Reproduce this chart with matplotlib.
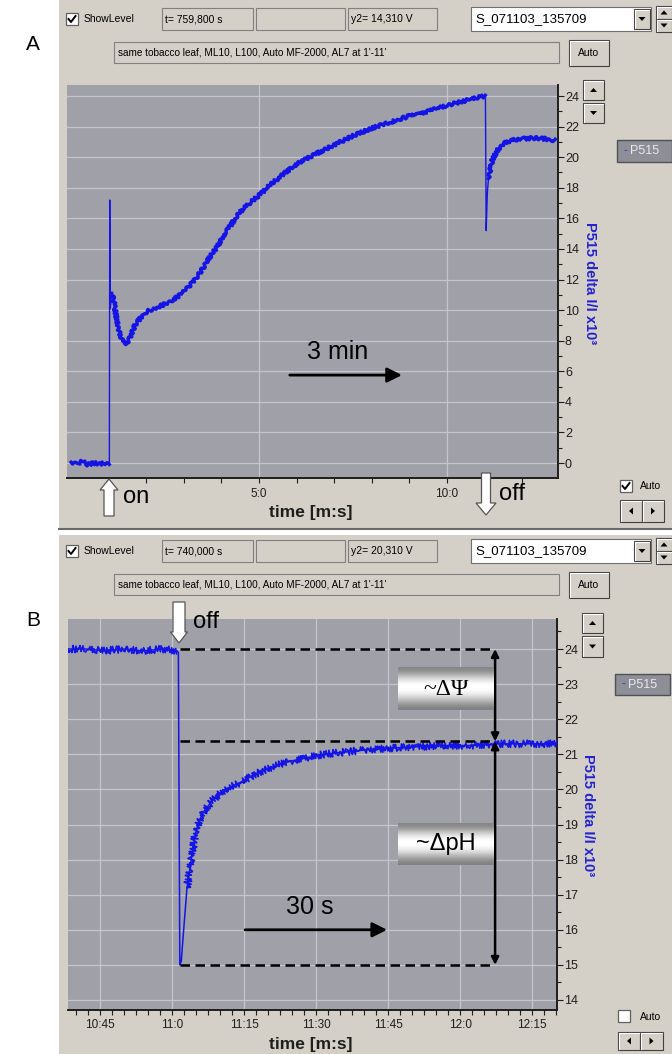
import matplotlib
matplotlib.use('Agg')
import matplotlib.pyplot as plt
import numpy as np
from matplotlib.patches import Rectangle, Polygon
from matplotlib.lines import Line2D
from matplotlib.ticker import MultipleLocator, FixedLocator, FuncFormatter

plt.rcParams['font.family'] = ['Liberation Sans', 'DejaVu Sans']

W, H = 672, 1054

# panel A: P515 trace over the whole run (time in min, signal x10^-3)
a_time = [0.0, 0.15, 0.3, 0.45, 0.6, 0.75, 0.9, 1.02,
          1.03, 1.045, 1.08, 1.12, 1.2, 1.3, 1.4, 1.5, 1.6, 1.7, 1.85, 1.95,
          2.1, 2.4, 2.6, 2.85, 3.05, 3.3, 3.5, 3.7, 3.9, 4.15, 4.4, 4.6, 4.8, 5.0,
          5.3, 5.7, 6.1, 6.5, 7.0, 7.5, 8.0, 8.5, 9.0, 9.5, 10.0, 10.5, 10.8, 11.02,
          11.04, 11.07, 11.1, 11.2, 11.35, 11.5, 11.7, 12.0, 12.3, 12.6, 12.87]
a_signal = [0.05, -0.05, 0.1, -0.1, 0.0, -0.05, 0.0, -0.05,
            17.2, 10.1, 11.1, 10.9, 9.6, 8.4, 7.9, 7.8, 8.4, 9.0, 9.5, 9.8,
            10.0, 10.3, 10.5, 10.9, 11.3, 12.0, 12.7, 13.5, 14.2, 15.2, 16.1, 16.7, 17.1, 17.5,
            18.2, 19.0, 19.7, 20.2, 20.8, 21.4, 21.9, 22.3, 22.7, 23.0, 23.4, 23.7, 23.9, 24.0,
            15.2, 17.6, 18.6, 19.8, 20.5, 20.9, 21.1, 21.2, 21.25, 21.2, 21.1]

# panel B: zoom on the light-off relaxation (time in s)
b_time = [638.3, 642, 646, 650, 654, 658, 661.0, 661.3, 661.6, 661.9, 662.4, 663.1,
          664.1, 664.8, 665.6, 666.5, 668.5, 671.0, 674.2, 677.5, 681.0, 684.5, 688.0,
          691.5, 695.0, 702.0, 709.0, 716.0, 722.0, 728.0, 734.0, 740.2]
b_signal = [24.0, 24.0, 23.95, 24.0, 23.95, 24.0, 23.95, 23.9, 15.0, 15.1, 16.0, 17.2,
            18.1, 18.7, 19.1, 19.35, 19.7, 20.0, 20.2, 20.45, 20.65, 20.8, 20.9,
            21.0, 21.05, 21.15, 21.2, 21.25, 21.25, 21.3, 21.3, 21.3]
b_levels = [24.0, 21.37, 15.0]   # dark level, slow-phase level, minimum

WIN = '#d4d0c8'
PLOT_BG = '#a0a0a8'
GRID = '#c6c6ca'
TRACE = '#1414e6'

fig = plt.figure(figsize=(W / 100, H / 100), dpi=100)
fig.patch.set_facecolor('white')


def box(x0, y0, x1, y1, face, edge='#808080', lw=0.8, z=1):
    fig.add_artist(Rectangle((x0 / W, 1 - y1 / H), (x1 - x0) / W, (y1 - y0) / H,
                             transform=fig.transFigure, facecolor=face,
                             edgecolor=edge, lw=lw, zorder=z))


def hline(x0, x1, y, color, lw=1, z=2):
    fig.add_artist(Line2D([x0 / W, x1 / W], [1 - y / H, 1 - y / H],
                          transform=fig.transFigure, color=color, lw=lw, zorder=z))


def vline(x, y0, y1, color, lw=1, z=2):
    fig.add_artist(Line2D([x / W, x / W], [1 - y0 / H, 1 - y1 / H],
                          transform=fig.transFigure, color=color, lw=lw, zorder=z))


def txt(x, y, s, **kw):
    kw.setdefault('va', 'center')
    kw.setdefault('zorder', 12)
    fig.text(x / W, 1 - y / H, s, **kw)


def poly(pts, face, edge='none', lw=0.8, z=3):
    fig.add_artist(Polygon([(x / W, 1 - y / H) for x, y in pts], closed=True,
                           transform=fig.transFigure, facecolor=face,
                           edgecolor=edge, lw=lw, zorder=z))


def button(x0, y0, x1, y1, label=None, arrow=None):
    box(x0, y0, x1, y1, WIN, edge='#404040', lw=0.8)
    hline(x0 + 1, x1 - 1, y0 + 1, 'white', 0.8, 2)
    vline(x0 + 1, y0 + 1, y1 - 1, 'white', 0.8, 2)
    cx, cy = (x0 + x1) / 2, (y0 + y1) / 2
    if label:
        txt(cx, cy, label, ha='center', fontsize=7.5)
    s = 3.5
    if arrow == 'up':
        poly([(cx - s, cy + 2), (cx + s, cy + 2), (cx, cy - 2)], 'black')
    elif arrow == 'down':
        poly([(cx - s, cy - 2), (cx + s, cy - 2), (cx, cy + 2)], 'black')
    elif arrow == 'left':
        poly([(cx + 2, cy - s), (cx + 2, cy + s), (cx - 2, cy)], 'black')
    elif arrow == 'right':
        poly([(cx - 2, cy - s), (cx - 2, cy + s), (cx + 2, cy)], 'black')


def checkbox(x0, y0, checked):
    box(x0, y0, x0 + 12, y0 + 12, 'white', edge='#606060', lw=0.9)
    if checked:
        fig.add_artist(Line2D([(x0 + 2.5) / W, (x0 + 5) / W, (x0 + 9.5) / W],
                              [1 - (y0 + 6) / H, 1 - (y0 + 9) / H, 1 - (y0 + 3) / H],
                              transform=fig.transFigure, color='black', lw=1.4, zorder=3))


def header(dy, t_text, y2_text):
    checkbox(66, 13 + dy, True)
    txt(84, 19 + dy, 'ShowLevel', fontsize=7.5)
    box(162, 8 + dy, 253, 30 + dy, WIN)
    txt(165, 19 + dy, t_text, fontsize=7.5)
    box(256, 8 + dy, 345, 30 + dy, WIN)
    box(348, 8 + dy, 437, 30 + dy, WIN)
    txt(351, 19 + dy, y2_text, fontsize=7.5)
    box(471, 7 + dy, 651, 31 + dy, 'white', edge='#707070')
    txt(475, 19 + dy, 'S_071103_135709', fontsize=9.5)
    button(634, 9 + dy, 650, 29 + dy, arrow='down')
    button(656, 6 + dy, 672, 19 + dy, arrow='up')
    button(656, 19 + dy, 672, 32 + dy, arrow='down')
    box(114, 42 + dy, 559, 63 + dy, WIN)
    txt(118, 52.5 + dy, "same tobacco leaf, ML10, L100, Auto MF-2000, AL7 at 1'-11'", fontsize=7.2)
    button(569, 40 + dy, 609, 66 + dy, label='Auto')


def legend_box(x0, y0, x1, y1):
    box(x0, y0, x1, y1, '#8e8e96', edge='#505058', lw=1)
    txt(x0 + 6, (y0 + y1) / 2, '-', color='#3a3ad0', fontsize=9)
    txt(x0 + 13, (y0 + y1) / 2, 'P515', color='#e8e8ec', fontsize=9)


def block_arrow(x, y_tail, y_tip, shaft=5, head=9, head_len=11):
    d = 1 if y_tip > y_tail else -1
    yb = y_tip - d * head_len
    pts = [(x - shaft, y_tail), (x - shaft, yb), (x - head, yb), (x, y_tip),
           (x + head, yb), (x + shaft, yb), (x + shaft, y_tail)]
    poly(pts, 'white', edge='#555555', lw=0.9, z=11)


def m_s(t, pos):
    m = int(t // 60)
    s = int(round(t - 60 * m))
    if s == 60:
        m, s = m + 1, 0
    return f'{m}:{s}'


def style_axes(ax):
    ax.set_facecolor(PLOT_BG)
    for side in ('left', 'top'):
        ax.spines[side].set_visible(False)
    for side in ('right', 'bottom'):
        ax.spines[side].set_color('#1e1e1e')
        ax.spines[side].set_linewidth(1.4)
    ax.yaxis.tick_right()
    ax.tick_params(axis='y', which='both', direction='out', labelsize=9,
                   colors='#1e1e1e', pad=1, width=0.8)
    ax.tick_params(axis='y', which='major', length=4)
    ax.tick_params(axis='y', which='minor', length=3)
    ax.tick_params(axis='x', which='both', direction='out', labelsize=8.5,
                   colors='#1e1e1e', width=0.8, length=3.5)
    ax.xaxis.set_major_formatter(FuncFormatter(m_s))
    ax.grid(True, which='major', color=GRID, lw=0.9)
    ax.set_axisbelow(True)


# windows
box(59, 0, 672, 528, WIN, edge='none', z=0)
hline(59, 672, 529, '#6a6a6a', 1.5, 1)
box(59, 535, 672, 1054, WIN, edge='none', z=0)

txt(26, 45, 'A', fontsize=15)
txt(26, 620, 'B', fontsize=15)

header(0, 't= 759,800 s', 'y2= 14,310 V')
header(532, 't= 740,000 s', 'y2= 20,310 V')

# ---------------- panel A ----------------
axA = fig.add_axes([67 / W, 1 - 478 / H, (558 - 67) / W, (478 - 85) / H])
style_axes(axA)
ta = np.array(a_time) * 60
ya = np.array(a_signal)
axA.plot(ta, ya, color=TRACE, lw=1.0, zorder=3)
# the slow parts are drawn as a noisy band
for seg in [(ta <= 1.02 * 60), ((ta >= 1.08 * 60) & (ta <= 11.02 * 60)), (ta >= 11.1 * 60)]:
    ln, = axA.plot(ta[seg], ya[seg], color=TRACE, lw=2.4, zorder=3,
                   solid_joinstyle='round')
    ln.set_sketch_params(scale=1.6, length=5, randomness=3)
axA.set_xlim(-6.4, 777)
axA.set_ylim(-0.98, 24.72)
axA.yaxis.set_major_locator(MultipleLocator(2))
axA.yaxis.set_minor_locator(MultipleLocator(1))
axA.xaxis.set_major_locator(FixedLocator([300, 600]))
axA.xaxis.set_minor_locator(FixedLocator(list(range(120, 780, 60))))
axA.tick_params(axis='x', pad=4)
axA.annotate('', xy=(528, 5.75), xytext=(349, 5.75),
             arrowprops=dict(arrowstyle='-|>', lw=2, color='black',
                             mutation_scale=22, shrinkA=0, shrinkB=0))
axA.text(426, 7.26, '3 min', ha='center', va='center', fontsize=18)

txt(311, 512, 'time [m:s]', ha='center', fontsize=12.5, fontweight='bold', color='#1e1e1e')
txt(590, 283, 'P515 delta I/I x10³', ha='center', rotation=270, fontsize=10.5,
    fontweight='bold', color='#2424d0')
block_arrow(109, 516, 479, shaft=5, head=9, head_len=11)
txt(123, 497, 'on', fontsize=17)
block_arrow(486, 473, 515, shaft=4.5, head=10, head_len=12)
txt(499, 494, 'off', fontsize=17)

button(583, 80, 604, 100, arrow='up')
button(583, 103, 604, 123, arrow='down')
legend_box(617, 140, 672, 162)
checkbox(620, 480, True)
txt(640, 486, 'Auto', fontsize=7.5)
button(620, 500, 642, 522, arrow='left')
button(642, 500, 664, 522, arrow='right')

# ---------------- panel B ----------------
axB = fig.add_axes([68 / W, 1 - 1010 / H, (557 - 68) / W, (1010 - 619) / H])
style_axes(axB)
tb = np.array(b_time)
yb = np.array(b_signal)
axB.plot(tb, yb, color=TRACE, lw=1.1, zorder=3)
for seg in [(tb <= 661.0), (tb >= 663.1)]:
    ln, = axB.plot(tb[seg], yb[seg], color=TRACE, lw=1.2, zorder=3)
    ln.set_sketch_params(scale=3.6, length=2.5, randomness=2)
axB.set_xlim(638.3, 740.2)
axB.set_ylim(13.715, 24.855)
axB.yaxis.set_major_locator(MultipleLocator(1))
axB.yaxis.set_minor_locator(MultipleLocator(0.5))
axB.xaxis.set_major_locator(MultipleLocator(15))
axB.xaxis.set_minor_locator(MultipleLocator(2.5))
axB.tick_params(axis='x', pad=3)

x_off, x_arr = 661.6, 727.3
for lev in b_levels:
    axB.plot([x_off, x_arr], [lev, lev], color='black', lw=1.8, dashes=(3.8, 2.2), zorder=4)
for top, bot in [(b_levels[0], b_levels[1]), (b_levels[1], b_levels[2])]:
    axB.annotate('', xy=(x_arr, top), xytext=(x_arr, bot),
                 arrowprops=dict(arrowstyle='<|-|>', lw=1.8, color='black',
                                 mutation_scale=11, shrinkA=0, shrinkB=0), zorder=5)

grad = np.array([0.52, 0.62, 0.78, 0.92, 1.0, 1.0, 0.96, 0.86, 0.72, 0.6, 0.5]).reshape(-1, 1)
for (y0, y1), label, fam in [((22.26, 23.46), '~ΔΨ', ['Liberation Serif', 'DejaVu Serif']),
                             ((17.85, 19.04), '~ΔpH', ['Liberation Sans', 'DejaVu Sans'])]:
    axB.imshow(grad, extent=[707.1, 726.9, y0, y1], aspect='auto', cmap='gray',
               vmin=0, vmax=1, interpolation='bicubic', zorder=6)
    axB.text(717.0, (y0 + y1) / 2, label, ha='center', va='center', fontsize=17,
             family=fam, zorder=7)
axB.set_xlim(638.3, 740.2)
axB.set_ylim(13.715, 24.855)

axB.annotate('', xy=(704.8, 16.0), xytext=(675.2, 16.0),
             arrowprops=dict(arrowstyle='-|>', lw=2, color='black',
                             mutation_scale=22, shrinkA=0, shrinkB=0))
axB.text(688.75, 16.65, '30 s', ha='center', va='center', fontsize=18)

txt(311, 1044, 'time [m:s]', ha='center', fontsize=12.5, fontweight='bold', color='#1e1e1e')
txt(588, 815, 'P515 delta I/I x10³', ha='center', rotation=270, fontsize=10.5,
    fontweight='bold', color='#2424d0')
block_arrow(179, 602, 643, shaft=6, head=8.5, head_len=11)
txt(193, 622, 'off', fontsize=17)

button(582, 613, 603, 633, arrow='up')
button(582, 636, 603, 657, arrow='down')
legend_box(615, 674, 670, 695)
checkbox(618, 1010, False)
txt(640, 1017, 'Auto', fontsize=7.5)
button(618, 1032, 640, 1050, arrow='left')
button(640, 1032, 663, 1050, arrow='right')

fig.savefig('out.png', dpi=100)
